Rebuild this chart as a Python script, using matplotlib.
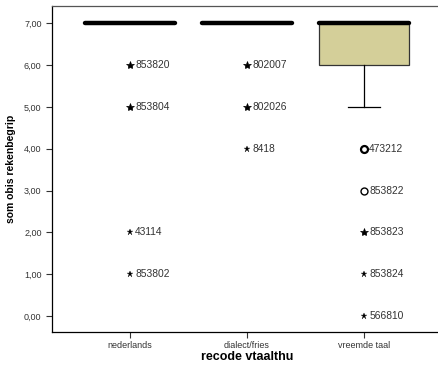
import numpy as np
import matplotlib
matplotlib.use('Agg')
from matplotlib import pyplot as plt

# Groups on the x axis
groups = ['nederlands', 'dialect/fries', 'vreemde taal']
# Box statistics per group: q1, median, q3, whisker low, whisker high
q1 = [7.0, 7.0, 6.0]
median = [7.0, 7.0, 7.0]
q3 = [7.0, 7.0, 7.0]
whis_lo = [7.0, 7.0, 5.0]
whis_hi = [7.0, 7.0, 7.0]
# Outlying cases: group index, value, case id, kind ('o' outlier, '*' extreme)
out_group = [0, 0, 0, 0, 1, 1, 1, 2, 2, 2, 2, 2]
out_value = [6, 5, 2, 1, 6, 5, 4, 4, 3, 2, 1, 0]
out_id = ['853820', '853804', '43114', '853802',
          '802007', '802026', '8418',
          '473212', '853822', '853823', '853824', '566810']
out_kind = ['*', '*', '*', '*', '*', '*', '*', 'o', 'o', '*', '*', '*']
out_bold = [True, True, False, False, True, True, False, True, False, True, False, False]

plt.rcParams['font.family'] = ['Liberation Sans', 'DejaVu Sans']

fig = plt.figure(figsize=(4.38, 3.65), dpi=100)
ax = fig.add_axes([52 / 438, 1 - 332 / 365, 390 / 438, 326 / 365])

stats = []
for i in range(len(groups)):
    stats.append({'q1': q1[i], 'med': median[i], 'q3': q3[i],
                  'whislo': whis_lo[i], 'whishi': whis_hi[i], 'fliers': []})

ax.bxp(stats, positions=[1, 2, 3], widths=0.77, patch_artist=True,
       showfliers=False,
       boxprops=dict(facecolor='#d4cf99', edgecolor='#333333', linewidth=0.9),
       whiskerprops=dict(color='black', linewidth=0.9),
       capprops=dict(color='black', linewidth=0.9),
       medianprops=dict(color='black', linewidth=3.2, solid_capstyle='round'),
       capwidths=0.27)

for g, v, lab, k, b in zip(out_group, out_value, out_id, out_kind, out_bold):
    x = g + 1
    if k == '*':
        ax.plot(x, v, marker='*', color='black', markersize=6 if b else 5,
                markeredgewidth=0.5 if b else 0.2, linestyle='none')
    else:
        ax.plot(x, v, marker='o', markerfacecolor='white', markeredgecolor='black',
                markersize=5, markeredgewidth=1.6 if b else 1.0, linestyle='none')
    ax.text(x + 0.045, v, lab, fontsize=7.4, color='#333333', va='center',
            ha='left')

ax.set_xlim(0.333, 3.667)
ax.set_ylim(-0.38, 7.41)
ax.set_yticks(np.arange(0, 8))
ax.set_yticklabels(['{0:.2f}'.format(v).replace('.', ',') for v in range(8)])
ax.set_xticks([1, 2, 3])
ax.set_xticklabels(groups)
ax.tick_params(axis='both', labelsize=6.5, colors='#333333', length=4, width=0.8)
ax.tick_params(axis='x', pad=2.5)

for side in ['right']:
    ax.spines[side].set_visible(False)
for side in ['left', 'bottom', 'top']:
    ax.spines[side].set_linewidth(0.9)
ax.spines['top'].set_color('#555555')

ax.set_ylabel('som obis rekenbegrip', fontsize=7.5, fontweight='bold', labelpad=6)
ax.set_xlabel('recode vtaalthu', fontsize=9, fontweight='bold', labelpad=1)

plt.savefig('out.png', dpi=100)
